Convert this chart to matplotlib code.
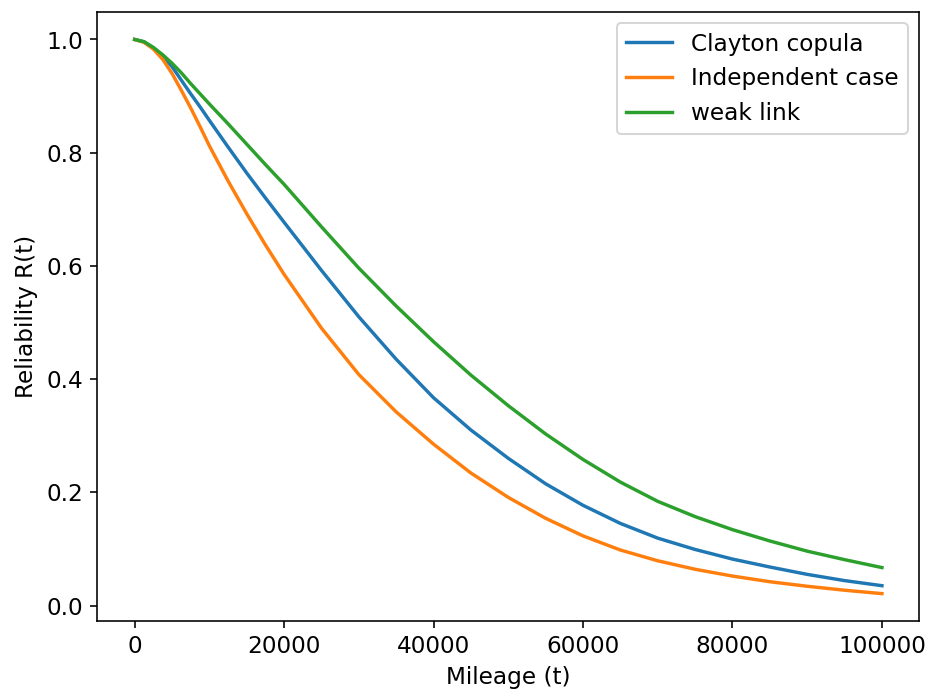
import matplotlib
matplotlib.use("Agg")
from matplotlib import pyplot as plt

plt.rcParams["font.size"] = 11.5

# mileage points (t) and reliability
mileage = [0, 1250, 2500, 3750, 5000, 6250, 7500, 8750, 10000, 12500, 15000, 17500,
           20000, 25000, 30000, 35000, 40000, 45000, 50000, 55000, 60000, 65000,
           70000, 75000, 80000, 85000, 90000, 95000, 100000]

clayton = [1.0, 0.996, 0.985, 0.97, 0.952, 0.928, 0.904, 0.881, 0.857, 0.81, 0.764,
           0.72, 0.677, 0.592, 0.51, 0.435, 0.367, 0.31, 0.26, 0.215, 0.177, 0.145,
           0.119, 0.099, 0.082, 0.068, 0.055, 0.044, 0.035]

independent = [1.0, 0.995, 0.983, 0.965, 0.94, 0.91, 0.879, 0.846, 0.812, 0.75, 0.692,
               0.637, 0.585, 0.49, 0.408, 0.342, 0.285, 0.234, 0.191, 0.154, 0.123,
               0.098, 0.079, 0.064, 0.052, 0.042, 0.034, 0.027, 0.021]

weak_link = [1.0, 0.996, 0.986, 0.973, 0.958, 0.941, 0.922, 0.904, 0.886, 0.851, 0.815,
             0.779, 0.744, 0.669, 0.596, 0.529, 0.466, 0.407, 0.353, 0.303, 0.258,
             0.218, 0.184, 0.157, 0.134, 0.114, 0.096, 0.081, 0.067]

fig = plt.figure(figsize=(6.4, 4.8), dpi=144.8)
fig.subplots_adjust(left=0.105, right=0.992, top=0.983, bottom=0.106)
ax = fig.add_subplot(111)

ax.plot(mileage, clayton, lw=1.7, label="Clayton copula")
ax.plot(mileage, independent, lw=1.7, label="Independent case")
ax.plot(mileage, weak_link, lw=1.7, label="weak link")

ax.set_xlabel("Mileage (t)", labelpad=4)
ax.set_ylabel("Reliability R(t)")
ax.legend(loc="upper right")

fig.savefig("out.png")
